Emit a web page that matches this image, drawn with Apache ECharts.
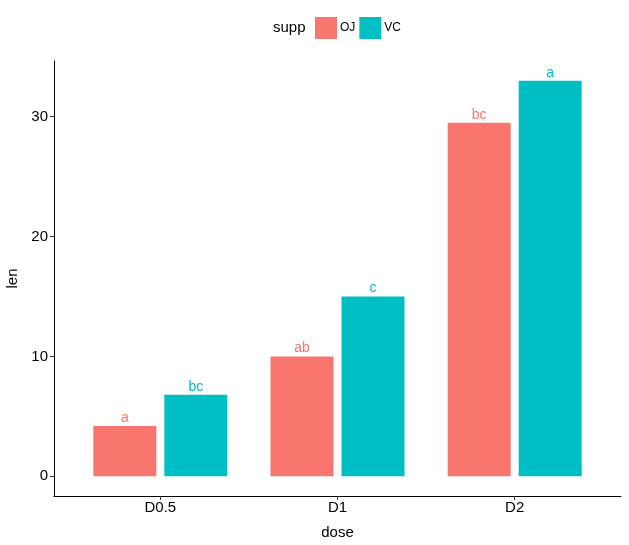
<!DOCTYPE html>
<html>
<head>
<meta charset="utf-8">
<script src="https://cdn.jsdelivr.net/npm/echarts@6/dist/echarts.min.js"></script>
<style>html,body{margin:0;padding:0;background:#fff}#c{width:629px;height:545px}</style>
</head>
<body>
<div id="c"></div>
<script>
const categories = ["D0.5", "D1", "D2"];
const ojValues = [4.2, 10, 29.5];
const vcValues = [6.8, 15, 33];
const ojLabels = ["a", "ab", "bc"];
const vcLabels = ["bc", "c", "a"];
const yTicks = [0, 10, 20, 30];

const FONT = "Liberation Sans, Arial, sans-serif";
const OJ = "#F8766D", VC = "#00BFC4";
const chart = echarts.init(document.getElementById('c'), null, {renderer: 'canvas'});

function mk(name, vals, labs, color) {
  return {
    name: name, type: 'bar', barWidth: 63, barGap: '12.7%',
    itemStyle: {color: color},
    label: {
      show: true, position: 'top', distance: 1, color: color,
      fontFamily: FONT, fontSize: 14,
      formatter: p => labs[p.dataIndex]
    },
    data: vals.map((v, i) => [i + 1, v])
  };
}

chart.setOption({
  animation: false,
  textStyle: {fontFamily: FONT},
  title: {
    text: 'supp', left: 273, top: 20, padding: 0,
    textStyle: {fontFamily: FONT, fontSize: 15, fontWeight: 'normal', color: '#000'}
  },
  legend: {
    left: 315, top: 15, padding: 0, icon: 'rect', itemWidth: 22, itemHeight: 22, itemGap: 4,
    textStyle: {fontFamily: FONT, fontSize: 12, color: '#000', lineHeight: 26, padding: [0, 0, 0, -2]},
    data: ['OJ', 'VC']
  },
  grid: {left: 54, right: 8, top: 61, bottom: 49, containLabel: false, outerBoundsMode: 'none'},
  xAxis: {
    type: 'value', min: 0.4, max: 3.6,
    name: 'dose', nameLocation: 'middle', nameGap: 29,
    nameTextStyle: {fontFamily: FONT, fontSize: 15, color: '#000'},
    splitLine: {show: false},
    axisLine: {show: true, onZero: false, lineStyle: {color: '#000', width: 1}},
    axisTick: {show: true, length: 4, customValues: [1, 2, 3], lineStyle: {color: '#333'}},
    axisLabel: {
      customValues: [1, 2, 3], margin: 4, fontFamily: FONT, fontSize: 15, color: '#000',
      formatter: v => categories[Math.round(v) - 1]
    }
  },
  yAxis: {
    type: 'value', min: -1.65, max: 34.65,
    name: 'len', nameLocation: 'middle', nameGap: 28,
    nameTextStyle: {fontFamily: FONT, fontSize: 15, color: '#000'},
    splitLine: {show: false},
    axisLine: {show: true, onZero: false, lineStyle: {color: '#000', width: 1}},
    axisTick: {show: true, length: 4, customValues: yTicks, lineStyle: {color: '#333'}},
    axisLabel: {customValues: yTicks, margin: 6, fontFamily: FONT, fontSize: 15, color: '#000'}
  },
  series: [mk('OJ', ojValues, ojLabels, OJ), mk('VC', vcValues, vcLabels, VC)]
});
</script>
</body>
</html>
